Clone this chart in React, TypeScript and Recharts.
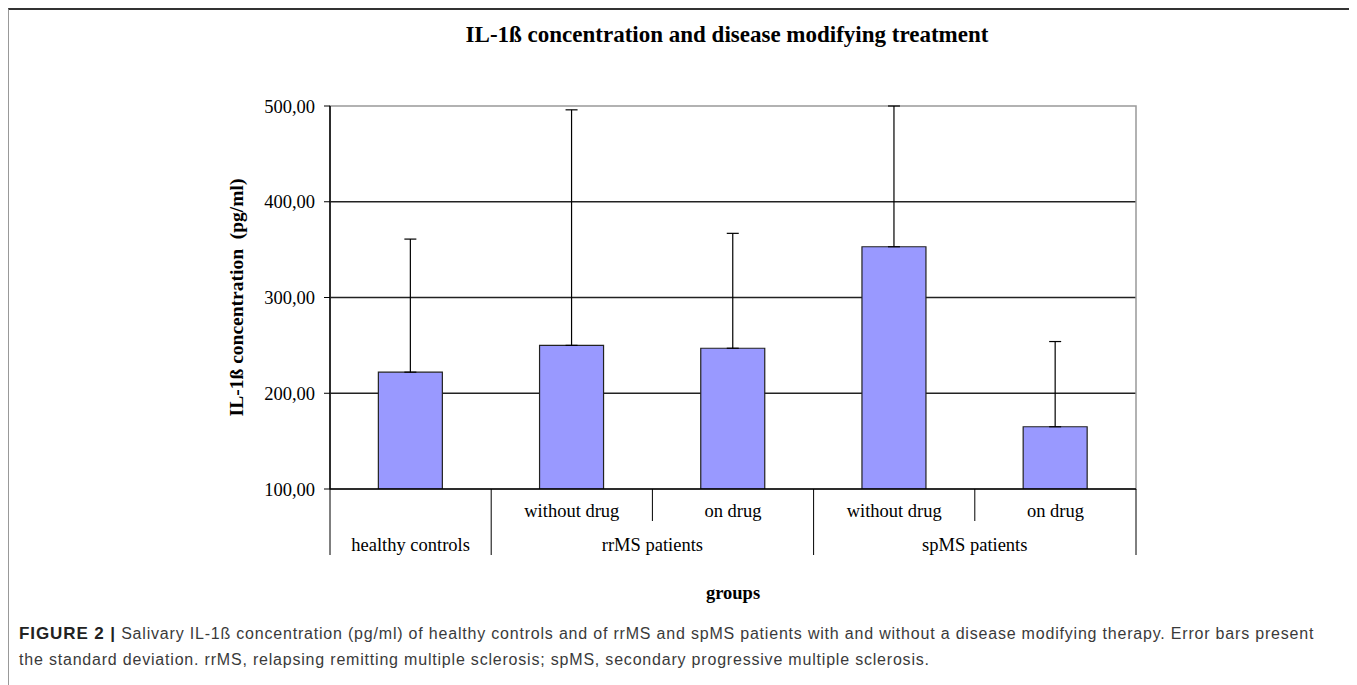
import React from "react";
import {
  BarChart,
  Bar,
  XAxis,
  YAxis,
  CartesianGrid,
  ErrorBar,
  ReferenceArea,
} from "recharts";

// groups / sub labels for the two-level category axis
const groups = ["healthy controls", "rrMS patients", "rrMS patients", "spMS patients", "spMS patients"];
const subLabels = ["", "without drug", "on drug", "without drug", "on drug"];
// mean IL-1ß (pg/ml) and upper standard deviation
const means = [222, 250, 247, 353, 165];
const sdUpper = [139, 246, 120, 147, 89];
const yTicks = [100, 200, 300, 400, 500];

const data = means.map((m, i) => ({
  cat: `c${i}`,
  mean: m,
  err: [0, sdUpper[i]],
}));

const CHART_W = 1340;
const CHART_H = 600;
const PLOT_W = 806;
const BAND = PLOT_W / means.length;
const serif = '"Liberation Serif", "Times New Roman", serif';

function GroupTick(props: any) {
  const { x, y, index } = props;
  const i = typeof index === "number" ? index : 0;
  const half = BAND / 2;
  const first = i === 0 || groups[i] !== groups[i - 1];
  const last = i === groups.length - 1;
  let count = 0;
  if (first) {
    for (let j = i; j < groups.length && groups[j] === groups[i]; j++) count++;
  }
  const groupX = x - half + (count * BAND) / 2;
  return (
    <g>
      {first ? (
        <line x1={x - half} x2={x - half} y1={y} y2={y + 66} stroke="#000" />
      ) : (
        <line x1={x - half} x2={x - half} y1={y} y2={y + 32} stroke="#000" />
      )}
      {last && <line x1={x + half} x2={x + half} y1={y} y2={y + 66} stroke="#000" />}
      {subLabels[i] && (
        <text x={x} y={y + 28} textAnchor="middle" fontSize={18.5} fontFamily={serif} fill="#000">
          {subLabels[i]}
        </text>
      )}
      {first && (
        <text x={groupX} y={y + 62} textAnchor="middle" fontSize={18.5} fontFamily={serif} fill="#000">
          {groups[i]}
        </text>
      )}
    </g>
  );
}

export default function App() {
  return (
    <div style={{ position: "relative", width: 1349, height: 677, background: "#fff" }}>
      <div
        style={{
          position: "absolute",
          left: 0,
          top: 0,
          width: 1347,
          height: 677,
          borderTop: "2px solid #333",
          borderLeft: "1px solid #999",
          borderRight: "2px solid #999",
          boxSizing: "border-box",
        }}
      />
      <div
        style={{
          position: "absolute",
          left: 319,
          top: 15,
          width: 800,
          textAlign: "center",
          fontFamily: serif,
          fontWeight: "bold",
          fontSize: 23,
          lineHeight: "24px",
          color: "#000",
        }}
      >
        IL-1ß concentration and disease modifying treatment
      </div>
      <div style={{ position: "absolute", left: 0, top: 0 }}>
        <BarChart
          width={CHART_W}
          height={CHART_H}
          data={data}
          barCategoryGap="30%"
          margin={{ top: 98, right: 212, bottom: 4, left: 200 }}
        >
          <CartesianGrid vertical={false} horizontalValues={[200, 300, 400]} stroke="#222" strokeWidth={1.5} />
          <ReferenceArea
            x1="c0"
            x2="c4"
            y1={100}
            y2={500}
            fill="none"
            stroke="#999"
            strokeWidth={1.5}
            fillOpacity={0}
          />
          <XAxis
            dataKey="cat"
            height={115}
            tickLine={false}
            tickSize={0}
            tickMargin={0}
            axisLine={{ stroke: "#000", strokeWidth: 1.5 }}
            tick={<GroupTick />}
            interval={0}
            label={{
              value: "groups",
              position: "insideBottom",
              offset: 5,
              style: { fontFamily: serif, fontWeight: "bold", fontSize: 18.5, fill: "#000" },
            }}
          />
          <YAxis
            width={122}
            domain={[100, 500]}
            allowDataOverflow
            ticks={yTicks}
            tickSize={6}
            tickMargin={9}
            tickLine={{ stroke: "#000" }}
            axisLine={{ stroke: "#000", strokeWidth: 1.5 }}
            tick={{ fontFamily: serif, fontSize: 18.5, fill: "#000" }}
            tickFormatter={(v: number) => v.toFixed(2).replace(".", ",")}
            label={{
              value: "IL-1ß concentration \u00a0(pg/ml)",
              angle: -90,
              position: "insideLeft",
              offset: 28,
              style: { fontFamily: serif, fontWeight: "bold", fontSize: 19.5, fill: "#000", textAnchor: "middle" },
            }}
          />
          <Bar dataKey="mean" fill="#9999ff" stroke="#222" strokeWidth={1.2} isAnimationActive={false}>
            <ErrorBar dataKey="err" width={6} stroke="#000" strokeWidth={1.2} direction="y" />
          </Bar>
        </BarChart>
      </div>
      <div
        style={{
          position: "absolute",
          left: 11,
          top: 613,
          fontFamily: '"Liberation Sans", Arial, sans-serif',
          fontSize: 16,
          letterSpacing: "0.8px",
          lineHeight: "26px",
          color: "#3a3a3a",
          whiteSpace: "nowrap",
        }}
      >
        <div>
          <b style={{ color: "#222", fontSize: 17, letterSpacing: "0.9px" }}>FIGURE 2 |</b> Salivary IL-1ß concentration
          (pg/ml) of healthy controls and of rrMS and spMS patients with and without a disease modifying therapy. Error
          bars present
        </div>
        <div>
          the standard deviation. rrMS, relapsing remitting multiple sclerosis; spMS, secondary progressive multiple
          sclerosis.
        </div>
      </div>
    </div>
  );
}
